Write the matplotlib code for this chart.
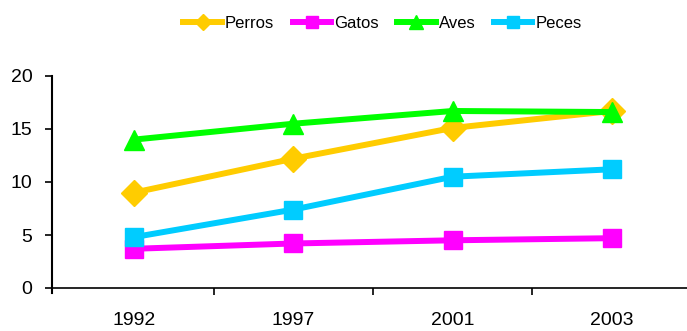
import matplotlib.pyplot as plt
import numpy as np

plt.rcParams['font.family'] = ['Liberation Sans', 'DejaVu Sans']

years = ['1992', '1997', '2001', '2003']
perros = [9.0, 12.2, 15.1, 16.7]
gatos = [3.7, 4.2, 4.5, 4.7]
aves = [14.0, 15.5, 16.7, 16.6]
peces = [4.8, 7.4, 10.5, 11.2]

series = [
    ('Perros', perros, '#FFCC00', 'D', 13),
    ('Gatos', gatos, '#FF00FF', 's', 13.5),
    ('Aves', aves, '#00FF00', '^', 14.5),
    ('Peces', peces, '#00CCFF', 's', 13.5),
]

fig = plt.figure(figsize=(6.87, 3.31), dpi=100)
ax = fig.add_axes([52 / 687, 1 - 288 / 331, (687 - 52) / 687, (288 - 76) / 331])

x = np.arange(len(years))
for name, vals, color, marker, ms in series:
    ax.plot(x, vals, color=color, lw=4.3, marker=marker, markersize=ms,
            markeredgecolor=color, label=name, clip_on=False)

ax.set_xlim(-0.515, 3.47)
ax.set_ylim(0, 20)
ax.set_yticks([0, 5, 10, 15, 20])
ax.set_xticks(x)
ax.set_xticklabels(years)
ax.set_xticks(np.arange(0.5, len(years) - 1, 1), minor=True)
ax.tick_params(axis='x', which='major', length=0, pad=17, labelsize=14)
ax.tick_params(axis='x', which='minor', length=5, width=1.2)
ax.tick_params(axis='y', length=5, width=1.2, pad=9, labelsize=14)

for side in ['top', 'right']:
    ax.spines[side].set_visible(False)
ax.spines['left'].set_linewidth(1.5)
ax.spines['left'].set_bounds(-0.45, 20)
ax.spines['bottom'].set_linewidth(1.2)

fig.legend(loc='center', bbox_to_anchor=(0.557, 1 - 23 / 331), ncol=4, frameon=False,
           fontsize=12, handlelength=2.3, handletextpad=0.2, columnspacing=1.1,
           markerscale=0.65)

fig.savefig('out.png', dpi=100)
